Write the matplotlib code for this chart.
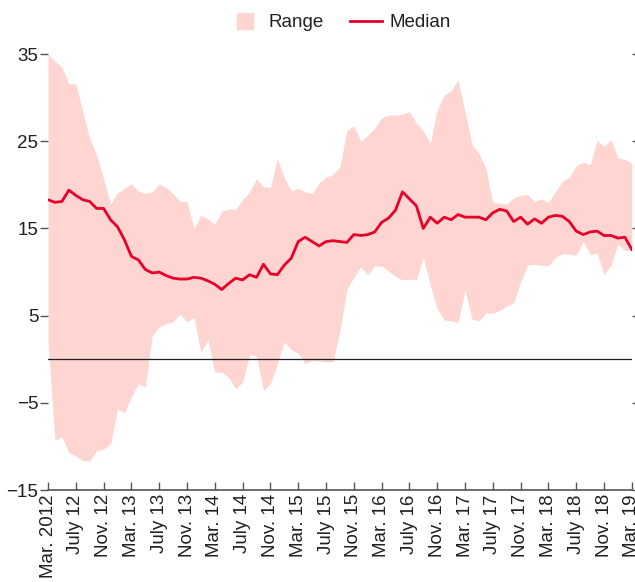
import matplotlib.pyplot as plt
from matplotlib.lines import Line2D
import numpy as np

plt.rcParams['font.family'] = ['Liberation Sans', 'DejaVu Sans']

# monthly, Mar. 2012 .. Mar. 2019
range_high = [35.0, 34.2, 33.5, 31.6, 31.6, 28.4, 25.3, 23.4, 20.7, 17.8,
              19.1, 19.6, 20.1, 19.3, 19.0, 19.2, 20.1, 19.7, 19.0, 18.1,
              18.1, 15.0, 16.5, 16.1, 15.5, 17.0, 17.2, 17.2, 18.3, 19.2,
              20.7, 19.8, 19.7, 23.0, 20.8, 19.3, 19.6, 19.2, 19.0, 20.2,
              20.9, 21.2, 22.1, 26.2, 26.8, 25.0, 25.7, 26.5, 27.7, 28.0,
              28.0, 28.1, 28.4, 27.1, 26.2, 24.8, 28.6, 30.3, 30.8, 32.0,
              28.4, 24.6, 23.6, 21.9, 18.0, 17.9, 17.8, 18.5, 18.8, 18.9,
              18.1, 18.4, 18.0, 19.2, 20.4, 20.9, 22.2, 22.6, 22.3, 25.1,
              24.4, 25.2, 23.1, 22.9, 22.5]
range_low = [2.0, -9.3, -8.9, -10.7, -11.1, -11.6, -11.7, -10.5, -10.3, -9.7,
             -5.7, -6.1, -4.3, -2.8, -3.2, 2.7, 3.7, 4.1, 4.3, 5.2,
             4.3, 4.8, 0.8, 2.2, -1.5, -1.5, -2.1, -3.4, -2.6, 0.5,
             0.4, -3.6, -2.8, -0.5, 2.0, 1.1, 0.7, -0.5, -0.1, -0.2,
             -0.3, -0.3, 3.3, 8.0, 9.4, 10.6, 9.7, 10.7, 10.7, 10.1,
             9.5, 9.1, 9.2, 9.1, 11.7, 8.5, 5.8, 4.5, 4.4, 4.2,
             7.9, 4.6, 4.4, 5.3, 5.3, 5.6, 6.1, 6.5, 8.9, 10.8,
             10.9, 10.8, 10.7, 11.7, 12.1, 12.1, 11.9, 13.5, 12.0, 12.2,
             9.7, 10.8, 13.2, 12.5, 12.5]
median = [18.3, 18.0, 18.1, 19.4, 18.8, 18.3, 18.1, 17.3, 17.3, 16.0,
          15.2, 13.7, 11.8, 11.4, 10.3, 9.9, 10.0, 9.6, 9.3, 9.2,
          9.2, 9.4, 9.3, 9.0, 8.6, 8.0, 8.7, 9.3, 9.1, 9.7,
          9.4, 10.9, 9.8, 9.7, 10.8, 11.6, 13.5, 14.0, 13.5, 13.0,
          13.5, 13.6, 13.5, 13.4, 14.3, 14.2, 14.3, 14.6, 15.7, 16.2,
          17.1, 19.2, 18.4, 17.6, 15.0, 16.3, 15.6, 16.3, 16.0, 16.6,
          16.3, 16.3, 16.3, 16.0, 16.8, 17.2, 17.0, 15.8, 16.3, 15.5,
          16.1, 15.6, 16.3, 16.5, 16.4, 15.8, 14.7, 14.3, 14.6, 14.7,
          14.2, 14.2, 13.9, 14.0, 12.6]
tick_labels = ['Mar. 2012', 'July 12', 'Nov. 12', 'Mar. 13', 'July 13', 'Nov. 13',
               'Mar. 14', 'July 14', 'Nov. 14', 'Mar. 15', 'July 15', 'Nov. 15',
               'Mar. 16', 'July 16', 'Nov. 16', 'Mar. 17', 'July 17', 'Nov. 17',
               'Mar. 18', 'July 18', 'Nov. 18', 'Mar. 19']

months = np.arange(len(median))
text_col = '#231f20'
fill_col = '#fed5d0'
line_col = '#e8002a'

fig = plt.figure(figsize=(6.35, 5.82), dpi=100)
ax = fig.add_axes([0.0756, 0.158, 0.9194, 0.749])

ax.fill_between(months, range_low, range_high, color=fill_col, linewidth=0)
ax.plot(months, median, color=line_col, linewidth=2.0)
ax.axhline(0, color='#231f20', linewidth=0.9)

ax.set_xlim(0, len(median) - 1)
ax.set_ylim(-15, 35)
ax.set_yticks([-15, -5, 5, 15, 25, 35])
ax.set_yticklabels(['\u221215', '\u22125', '5', '15', '25', '35'])
ax.set_xticks(months[::4])
ax.set_xticklabels(tick_labels, rotation=90)

for side in ['left', 'right', 'top']:
    ax.spines[side].set_visible(False)
ax.spines['bottom'].set_color('#555555')
ax.spines['bottom'].set_linewidth(1.2)

ax.tick_params(axis='y', which='both', direction='out', length=6, width=1,
               color='#555555', labelsize=13.5, labelcolor=text_col, pad=1,
               right=True)
ax.tick_params(axis='x', direction='in', length=6, width=1, color='#555555',
               labelsize=13.5, labelcolor=text_col, pad=3)

handles = [
    Line2D([], [], marker='s', markersize=11, color=fill_col, linestyle='none'),
    Line2D([], [], color=line_col, linewidth=2.0),
]
fig.legend(handles, ['Range', 'Median'], loc='upper center',
           bbox_to_anchor=(0.535, 1.005), ncol=2, frameon=False,
           fontsize=13.5, handlelength=1.7, columnspacing=1.4,
           handletextpad=0.4, labelcolor=text_col)

fig.savefig('out.png', dpi=100)
